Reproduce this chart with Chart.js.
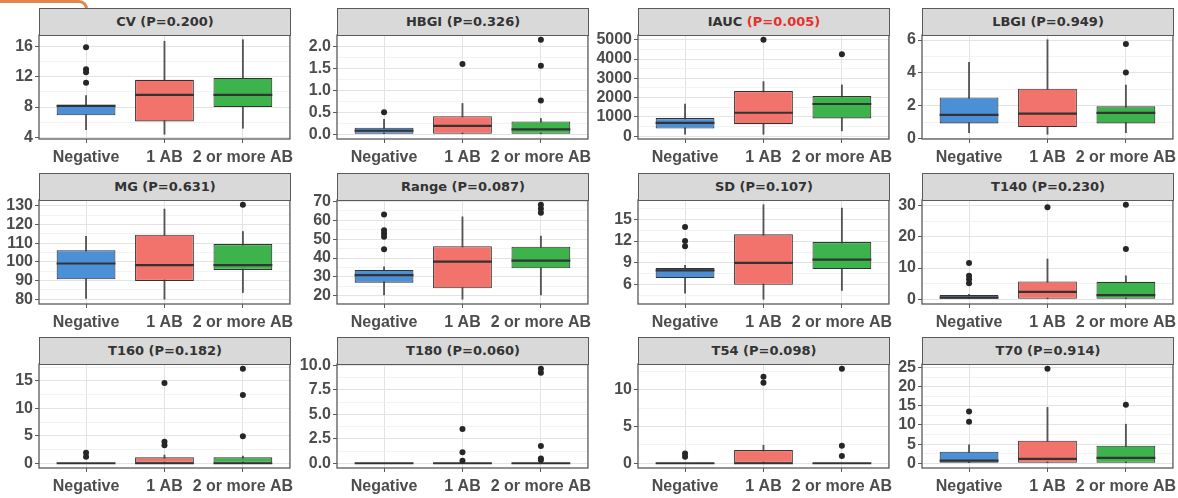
<!DOCTYPE html>
<html>
<head>
<meta charset="utf-8">
<script src="https://cdn.jsdelivr.net/npm/chart.js@4.4.1/dist/chart.umd.min.js"></script>
<style>
  html, body { margin: 0; padding: 0; background: #fff; }
  body { position: relative; width: 1178px; height: 498px; overflow: hidden; }
  canvas { position: absolute; }
  .strip {
    position: absolute; box-sizing: border-box;
    background: #d9d9d9; border: 1px solid #5a5a5a;
    font: bold 13px "DejaVu Sans", sans-serif; color: #333;
    text-align: center; white-space: nowrap;
  }
  .strip .sig { color: #e8302a; }
  .tab {
    position: absolute; left: -12px; top: 0px; width: 100px; height: 10px;
    border-top: 3px solid #e4864a; border-right: 3px solid #e4864a;
    border-top-right-radius: 9px; box-sizing: border-box;
  }
</style>
</head>
<body>
<div class="tab"></div>
<script>
// Groups on every x axis
const groups = ['Negative', '1 AB', '2 or more AB'];

// Panel titles and Kruskal-Wallis style p-values
const panelNames = ['CV', 'HBGI', 'IAUC', 'LBGI', 'MG', 'Range', 'SD', 'T140', 'T160', 'T180', 'T54', 'T70'];
const pValues = ['0.200', '0.326', '0.005', '0.949', '0.631', '0.087', '0.107', '0.230', '0.182', '0.060', '0.098', '0.914'];

// Box summaries per group: [lower whisker, Q1, median, Q3, upper whisker]
const cvStats = [[5.0, 6.9, 8.15, 8.3, 9.5], [4.4, 6.1, 9.6, 11.6, 16.7], [5.2, 8.0, 9.6, 11.85, 16.9]];
const cvOutliers = [[11.2, 12.6, 13.0, 15.9], [], []];
const cvTicks = ['4', '8', '12', '16'];

const hbgiStats = [[0.0, 0.01, 0.08, 0.15, 0.34], [0.0, 0.0, 0.19, 0.41, 0.70], [0.0, 0.0, 0.11, 0.29, 0.36]];
const hbgiOutliers = [[0.5], [1.6], [0.77, 1.56, 2.15]];
const hbgiTicks = ['0.0', '0.5', '1.0', '1.5', '2.0'];

const iaucStats = [[100, 400, 690, 940, 1670], [100, 625, 1215, 2340, 2830], [280, 920, 1670, 2080, 2660]];
const iaucOutliers = [[], [5000], [4250]];
const iaucTicks = ['0', '1000', '2000', '3000', '4000', '5000'];

const lbgiStats = [[0.36, 0.92, 1.44, 2.5, 4.64], [0.26, 0.7, 1.52, 3.04, 6.02], [0.36, 0.92, 1.56, 1.96, 3.26]];
const lbgiOutliers = [[], [], [4.02, 5.76]];
const lbgiTicks = ['0', '2', '4', '6'];

const mgStats = [[80.5, 90.7, 99.1, 106.2, 113.6], [80, 89.8, 98.2, 114.5, 128.2], [83.6, 95.7, 98.2, 109.5, 116.2]];
const mgOutliers = [[], [], [130.5]];
const mgTicks = ['80', '90', '100', '110', '120', '130'];

const rangeStats = [[20.5, 27.0, 31.0, 33.7, 35.4], [18.2, 24.0, 38.1, 46.3, 61.8], [20.5, 34.6, 38.6, 46.0, 51.6]];
const rangeOutliers = [[44.6, 51.2, 53.0, 54.7, 63.0], [], [63.9, 66.1, 68.2]];
const rangeTicks = ['20', '30', '40', '50', '60', '70'];

const sdStats = [[4.85, 6.92, 7.99, 8.31, 8.68], [4.02, 6.0, 9.0, 12.92, 16.98], [5.22, 8.17, 9.46, 11.86, 16.52]];
const sdOutliers = [[11.3, 12.0, 13.94], [], []];
const sdTicks = ['6', '9', '12', '15'];

const t140Stats = [[0, 0, 0.5, 1.4, 1.6], [0, 0, 2.36, 5.7, 12.9], [0, 0, 1.3, 5.6, 7.5]];
const t140Outliers = [[5.1, 6.4, 7.5, 11.6], [29.5], [16.1, 30.3]];
const t140Ticks = ['0', '10', '20', '30'];

const t160Stats = [[0, 0, 0, 0, 0], [0, 0, 0, 1.08, 1.5], [0, 0, 0, 1.08, 1.3]];
const t160Outliers = [[1.2, 1.9], [3.3, 3.9, 14.6], [4.9, 12.4, 17.2]];
const t160Ticks = ['0', '5', '10', '15'];

const t180Stats = [[0, 0, 0, 0, 0], [0, 0, 0, 0, 0], [0, 0, 0, 0, 0]];
const t180Outliers = [[], [0.27, 1.12, 3.5], [0.34, 0.5, 1.76, 9.25, 9.66]];
const t180Ticks = ['0.0', '2.5', '5.0', '7.5', '10.0'];

const t54Stats = [[0, 0, 0, 0, 0], [0, 0, 0, 1.8, 2.47], [0, 0, 0, 0, 0]];
const t54Outliers = [[0.9, 1.35], [11.0, 11.8], [0.99, 2.38, 12.9]];
const t54Ticks = ['0', '5', '10'];

const t70Stats = [[0, 0, 0.7, 3.04, 4.8], [0, 0, 1.13, 5.9, 14.6], [0, 0, 1.4, 4.6, 10.2]];
const t70Outliers = [[10.85, 13.5], [24.7], [15.3]];
const t70Ticks = ['0', '5', '10', '15', '20', '25'];

const panelStats = [cvStats, hbgiStats, iaucStats, lbgiStats, mgStats, rangeStats, sdStats, t140Stats, t160Stats, t180Stats, t54Stats, t70Stats];
const panelOutliers = [cvOutliers, hbgiOutliers, iaucOutliers, lbgiOutliers, mgOutliers, rangeOutliers, sdOutliers, t140Outliers, t160Outliers, t180Outliers, t54Outliers, t70Outliers];
const panelTicks = [cvTicks, hbgiTicks, iaucTicks, lbgiTicks, mgTicks, rangeTicks, sdTicks, t140Ticks, t160Ticks, t180Ticks, t54Ticks, t70Ticks];

// ---- styling / layout ----
const FILLS = ['#4b90d6', '#f1736c', '#3cb44b'];
const INK = '#333333';
const FRAME = '#5a5a5a';
const TICK_TEXT = '#4d4d4d';
const BOX_WIDTH = 0.75;          // in category units
const X_EXPAND = 0.6;            // discrete axis expansion
const COL_LEFT = [39, 337, 638, 922];
const ROW_TOP = [8, 173, 337];
const PANEL_W = 251, STRIP_H = 27, PLOT_H = 104;
const AXIS_W = 45, PAD_TOP = 12, PAD_RIGHT = 10, XAXIS_H = 32;

Chart.defaults.font.family = '"Liberation Sans", Arial, sans-serif';
Chart.defaults.animation = false;

const panelBorder = {
  id: 'panelBorder',
  afterDatasetsDraw(chart) {
    const { ctx, chartArea: a } = chart;
    ctx.save();
    ctx.strokeStyle = FRAME;
    ctx.lineWidth = 1.3;
    ctx.strokeRect(a.left, a.top, a.right - a.left, a.bottom - a.top);
    ctx.restore();
  }
};

function buildYTicks(labels, min, max) {
  const majors = labels.map(Number);
  const step = majors.length > 1 ? majors[1] - majors[0] : 1;
  const half = step / 2;
  const out = [];
  const start = Math.ceil(min / half - 1e-9);
  const end = Math.floor(max / half + 1e-9);
  for (let k = start; k <= end; k++) {
    const v = k * half;
    const idx = majors.findIndex(m => Math.abs(m - v) < half * 1e-6);
    out.push({ value: v, minor: idx < 0, text: idx < 0 ? '' : labels[idx] });
  }
  return out;
}

function makePanel(p) {
  const col = p % 4, row = Math.floor(p / 4);
  const left = COL_LEFT[col], top = ROW_TOP[row];
  const stats = panelStats[p], outliers = panelOutliers[p];

  // strip label
  const strip = document.createElement('div');
  strip.className = 'strip';
  strip.style.left = left + 'px';
  strip.style.top = top + 'px';
  strip.style.width = (PANEL_W + 1) + 'px';
  strip.style.height = (STRIP_H + 1) + 'px';
  strip.style.lineHeight = (STRIP_H - 1) + 'px';
  const sig = parseFloat(pValues[p]) < 0.05;
  strip.innerHTML = panelNames[p] + ' ' + (sig ? '<span class="sig">(P=' + pValues[p] + ')</span>' : '(P=' + pValues[p] + ')');

  // canvas
  const canvas = document.createElement('canvas');
  const cw = AXIS_W + PANEL_W + PAD_RIGHT, ch = PAD_TOP + PLOT_H + XAXIS_H;
  canvas.width = cw; canvas.height = ch;
  canvas.style.width = cw + 'px'; canvas.style.height = ch + 'px';
  canvas.style.left = (left - AXIS_W) + 'px';
  canvas.style.top = (top + STRIP_H - PAD_TOP) + 'px';
  document.body.appendChild(canvas);
  document.body.appendChild(strip);

  // y range with 5% expansion of the data span
  const all = stats.flat().concat(outliers.flat());
  const lo = Math.min(...all), hi = Math.max(...all);
  const pad = (hi - lo) * 0.05 || 0.5;
  const yMin = lo - pad, yMax = hi + pad;
  const yTicks = buildYTicks(panelTicks[p], yMin, yMax);

  const whiskers = stats.map((s, i) => ({ x: i, y: [s[0], s[4]] }));
  const boxes = stats.map((s, i) => ({ x: i, y: [s[1], s[3]] }));
  const medians = stats.map((s, i) => ({ x: i, y: s[2] }));
  const points = [];
  outliers.forEach((arr, i) => arr.forEach(v => points.push({ x: i, y: v })));

  const halfBox = (c) => {
    const s = c.chart.scales.x;
    return s.getPixelForValue(BOX_WIDTH / 2) - s.getPixelForValue(0);
  };

  new Chart(canvas, {
    type: 'bar',
    data: {
      datasets: [
        {
          type: 'bar', data: whiskers, grouped: false, order: 4,
          barThickness: 1.2, backgroundColor: '#555', borderWidth: 0
        },
        {
          type: 'bar', data: boxes, grouped: false, order: 3,
          barPercentage: BOX_WIDTH, categoryPercentage: 1,
          backgroundColor: FILLS, borderColor: INK, borderWidth: 1.1, borderSkipped: false
        },
        {
          type: 'line', data: medians, showLine: false, order: 2,
          pointStyle: 'line', pointRadius: halfBox, pointHoverRadius: halfBox,
          pointBorderColor: INK, pointBorderWidth: 2.2
        },
        {
          type: 'line', data: points, showLine: false, order: 1, clip: false,
          pointStyle: 'circle', pointRadius: 3, pointHoverRadius: 3,
          pointBackgroundColor: '#262626', pointBorderColor: '#262626', pointBorderWidth: 0
        }
      ]
    },
    options: {
      responsive: false,
      animation: false,
      events: [],
      layout: { padding: { top: PAD_TOP, right: PAD_RIGHT, left: 0, bottom: 0 } },
      plugins: { legend: { display: false }, tooltip: { enabled: false }, title: { display: false } },
      scales: {
        x: {
          type: 'linear', min: -X_EXPAND, max: groups.length - 1 + X_EXPAND,
          offset: false,
          afterBuildTicks: (s) => { s.ticks = groups.map((g, i) => ({ value: i })); },
          afterFit: (s) => { s.height = XAXIS_H; },
          border: { display: false },
          grid: { offset: false, color: '#e3e3e3', lineWidth: 1, tickColor: FRAME, tickLength: 4 },
          ticks: {
            autoSkip: false, maxRotation: 0, minRotation: 0, padding: 5,
            color: TICK_TEXT, font: { size: 16, weight: 'bold' },
            callback: (v) => groups[Math.round(v)]
          }
        },
        y: {
          type: 'linear', min: yMin, max: yMax,
          afterBuildTicks: (s) => { s.ticks = yTicks.map(t => ({ value: t.value, minor: t.minor })); },
          afterFit: (s) => { s.width = AXIS_W; },
          border: { display: false },
          grid: {
            color: (c) => (c.tick && c.tick.minor) ? '#f0f0f0' : '#e3e3e3',
            lineWidth: (c) => (c.tick && c.tick.minor) ? 0.8 : 1,
            tickColor: (c) => (c.tick && c.tick.minor) ? 'rgba(0,0,0,0)' : FRAME,
            tickLength: 4
          },
          ticks: {
            autoSkip: false, padding: 2,
            color: TICK_TEXT, font: { size: 16, weight: 'bold' },
            callback: (v, i) => yTicks[i] ? yTicks[i].text : ''
          }
        }
      }
    },
    plugins: [panelBorder]
  });
}

for (let p = 0; p < panelNames.length; p++) makePanel(p);
</script>
</body>
</html>
